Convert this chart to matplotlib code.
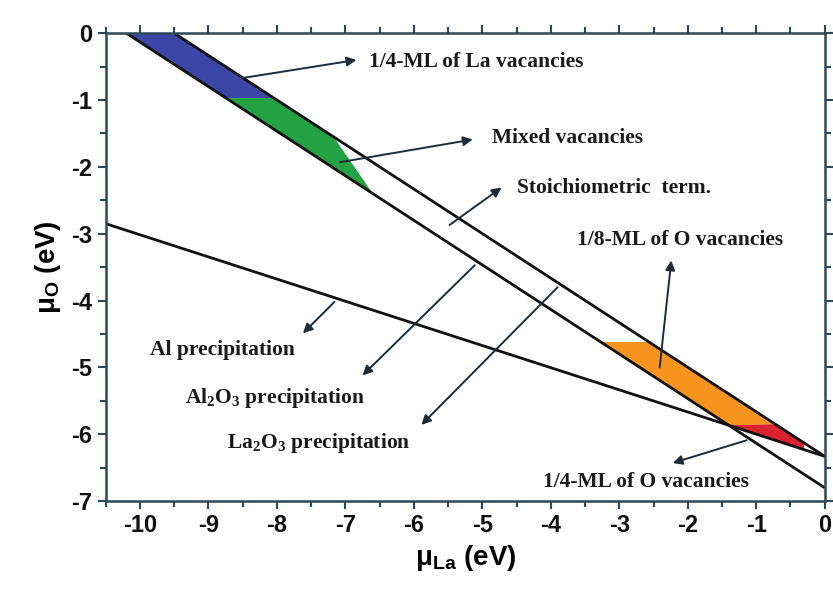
import numpy as np
import matplotlib
matplotlib.use("Agg")
import matplotlib.pyplot as plt
from matplotlib.ticker import MultipleLocator

plt.rcParams['font.family'] = ['Liberation Sans', 'DejaVu Sans']
plt.rcParams['mathtext.default'] = 'regular'
plt.rcParams['axes.unicode_minus'] = False

# lineas de precipitacion (extremos)
al_x = [-10.5, 0.0]
al_y = [-2.85, -6.33]
al2o3_x = [-10.2, 0.0]
al2o3_y = [0.0, -6.80]
la2o3_x = [-9.5, 0.0]
la2o3_y = [0.0, -6.33]

# cortes de las regiones (mu_O) y limites
blue_top, blue_bot = 0.0, -0.97
green_split = -1.55
green_tip_x = -6.60
orange_top, orange_bot = -4.62, -5.85
red_tip_x = -0.30

# etiquetas: texto, punta de flecha, cola de flecha, posicion del texto
labels = ["1/4-ML of La vacancies", "Mixed vacancies", "Stoichiometric  term.",
          "1/8-ML of O vacancies", "1/4-ML of O vacancies", "Al precipitation",
          r"Al$_2$O$_3$ precipitation", r"La$_2$O$_3$ precipitation"]
head_x = [-6.84, -5.14, -4.72, -2.24, -2.22, -7.62, -6.75, -5.89]
head_y = [-0.40, -1.59, -2.31, -3.40, -6.43, -4.49, -5.12, -5.86]
tail_x = [-8.50, -7.08, -5.48, -2.41, -1.14, -7.16, -5.11, -3.90]
tail_y = [-0.67, -1.93, -2.87, -5.00, -6.09, -4.02, -3.47, -3.80]
text_x = [-6.65, -4.86, -4.49, -2.11, -4.12, -9.86, -9.35, -8.73]
text_y = [-0.43, -1.57, -2.32, -3.10, -6.72, -4.74, -5.46, -6.13]
text_ha = ['left', 'left', 'left', 'center', 'left', 'left', 'left', 'left']


def x_on(lx, ly, y):
    return np.interp(y, ly[::-1], lx[::-1])


def y_on(lx, ly, x):
    return np.interp(x, lx, ly)


fig = plt.figure(figsize=(8.33, 5.93), dpi=100)
ax = fig.add_axes([0.127, 0.155, 0.863, 0.789])

# regiones coloreadas
ax.fill([x_on(al2o3_x, al2o3_y, blue_top), x_on(la2o3_x, la2o3_y, blue_top),
         x_on(la2o3_x, la2o3_y, blue_bot), x_on(al2o3_x, al2o3_y, blue_bot)],
        [blue_top, blue_top, blue_bot, blue_bot], color='#3c46a6', lw=0)
ax.fill([x_on(al2o3_x, al2o3_y, blue_bot), x_on(la2o3_x, la2o3_y, blue_bot),
         x_on(la2o3_x, la2o3_y, green_split), green_tip_x],
        [blue_bot, blue_bot, green_split, y_on(al2o3_x, al2o3_y, green_tip_x)],
        color='#23a244', lw=0)

# interseccion Al / Al2O3
cx = np.linspace(-10.5, 0, 2001)
d = y_on(al_x, al_y, cx) - y_on(al2o3_x, al2o3_y, cx)
ix = cx[np.argmin(np.abs(d))]
iy = y_on(al_x, al_y, ix)

ax.fill([x_on(al2o3_x, al2o3_y, orange_top), x_on(la2o3_x, la2o3_y, orange_top),
         x_on(la2o3_x, la2o3_y, orange_bot), ix],
        [orange_top, orange_top, orange_bot, iy], color='#f7941d', lw=0)
ax.fill([ix, x_on(la2o3_x, la2o3_y, orange_bot), red_tip_x, red_tip_x],
        [iy, orange_bot, y_on(la2o3_x, la2o3_y, red_tip_x), y_on(al_x, al_y, red_tip_x)],
        color='#d9232e', lw=0)

# lineas
for lx, ly in [(al_x, al_y), (al2o3_x, al2o3_y), (la2o3_x, la2o3_y)]:
    ax.plot(lx, ly, color='#111111', lw=2.0, solid_capstyle='butt')

# flechas y textos
for i in range(len(labels)):
    ax.annotate('', xy=(head_x[i], head_y[i]), xytext=(tail_x[i], tail_y[i]),
                arrowprops=dict(arrowstyle='-|>', color='#1c2c38', lw=1.4,
                                mutation_scale=14, shrinkA=0, shrinkB=0))
    ax.text(text_x[i], text_y[i], labels[i], ha=text_ha[i], va='center',
            fontsize=15.5, fontweight='bold', family=['Liberation Serif', 'DejaVu Serif'],
            color='#1a1a1a')

ax.set_xlim(-10.5, 0)
ax.set_ylim(-7, 0)
ax.xaxis.set_major_locator(MultipleLocator(1))
ax.xaxis.set_minor_locator(MultipleLocator(0.5))
ax.yaxis.set_major_locator(MultipleLocator(1))
ax.yaxis.set_minor_locator(MultipleLocator(0.5))

spine_col = '#2d4856'
for s in ax.spines.values():
    s.set_color(spine_col)
    s.set_linewidth(1.8)
ax.tick_params(which='both', direction='out', top=True, right=True, colors=spine_col,
               labelcolor='#111111', width=1.5)
ax.tick_params(which='major', length=6, labelsize=17)
ax.tick_params(which='minor', length=4)
for lab in ax.get_xticklabels() + ax.get_yticklabels():
    lab.set_fontweight('bold')

ax.set_xlabel('μ$_{La}$ (eV)', fontsize=20, fontweight='bold', labelpad=4)
ax.set_ylabel('μ$_O$ (eV)', fontsize=20, fontweight='bold', labelpad=6)

fig.savefig('out.png', dpi=100)
